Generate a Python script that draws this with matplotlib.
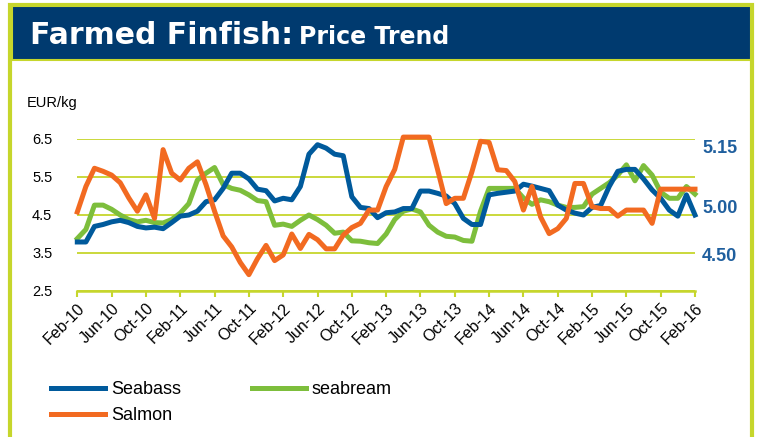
import numpy as np
import pandas as pd
import matplotlib
matplotlib.use('Agg')
import matplotlib.pyplot as plt
from matplotlib.patches import Rectangle

plt.rcParams['font.family'] = ['Liberation Sans', 'DejaVu Sans']

# monthly prices, Feb-10 .. Feb-16 (EUR/kg)
months = pd.date_range('2010-02-01', periods=73, freq='MS')

seabass = [3.79, 3.79, 4.20, 4.25, 4.32, 4.36, 4.30, 4.20, 4.16, 4.18,
           4.14, 4.30, 4.47, 4.50, 4.60, 4.85, 4.90, 5.20, 5.60, 5.60,
           5.45, 5.18, 5.14, 4.87, 4.94, 4.90, 5.25, 6.10, 6.35, 6.26,
           6.10, 6.06, 4.98, 4.70, 4.67, 4.43, 4.56, 4.58, 4.67, 4.67,
           5.13, 5.13, 5.07, 5.00, 4.80, 4.41, 4.25, 4.25, 5.03, 5.07,
           5.10, 5.13, 5.31, 5.26, 5.20, 5.14, 4.76, 4.63, 4.55, 4.50,
           4.70, 4.75, 5.25, 5.65, 5.70, 5.70, 5.45, 5.16, 4.94, 4.63,
           4.47, 5.03, 4.50]

seabream = [3.88, 4.12, 4.76, 4.76, 4.65, 4.50, 4.38, 4.32, 4.36, 4.30,
            4.29, 4.38, 4.55, 4.80, 5.42, 5.60, 5.75, 5.30, 5.20, 5.15,
            5.03, 4.88, 4.85, 4.23, 4.26, 4.20, 4.36, 4.50, 4.38, 4.23,
            4.02, 4.05, 3.82, 3.81, 3.77, 3.75, 4.00, 4.38, 4.60, 4.66,
            4.58, 4.23, 4.05, 3.94, 3.92, 3.83, 3.81, 4.60, 5.20, 5.20,
            5.20, 5.20, 4.95, 4.78, 4.90, 4.85, 4.76, 4.70, 4.70, 4.72,
            5.05, 5.20, 5.35, 5.55, 5.82, 5.40, 5.80, 5.55, 5.10, 4.94,
            4.94, 5.25, 5.05]

salmon = [4.58, 5.25, 5.73, 5.65, 5.55, 5.35, 4.95, 4.60, 5.03, 4.41,
          6.22, 5.60, 5.42, 5.73, 5.90, 5.30, 4.60, 3.95, 3.66, 3.25,
          2.93, 3.35, 3.70, 3.30, 3.45, 4.00, 3.62, 3.99, 3.85, 3.61,
          3.61, 3.97, 4.17, 4.28, 4.63, 4.63, 5.25, 5.70, 6.55, 6.55,
          6.55, 6.55, 5.69, 4.80, 4.94, 4.94, 5.64, 6.44, 6.41, 5.69,
          5.67, 5.38, 4.63, 5.25, 4.45, 4.01, 4.14, 4.41, 5.33, 5.33,
          4.72, 4.67, 4.67, 4.47, 4.63, 4.63, 4.63, 4.28, 5.18, 5.18,
          5.18, 5.18, 5.18]

left_ticks = [2.5, 3.5, 4.5, 5.5, 6.5]
# odd secondary labels drawn on the right side (placed on the EUR/kg scale)
right_tick_pos = [6.30, 4.72, 3.47]
right_tick_labels = ['5.15', '5.00', '4.50']

c_bass = '#005A9C'
c_bream = '#7DBE3C'
c_salmon = '#F26A21'
c_frame = '#C6D62C'
c_navy = '#003A6F'

W, H = 758, 437
fig = plt.figure(figsize=(W / 100, H / 100), dpi=100)

# frame + banner
fig.patches.append(Rectangle((10 / W, -0.05), 742 / W, 1.05 - 4.5 / H, transform=fig.transFigure,
                             facecolor='none', edgecolor=c_frame, linewidth=3, zorder=0))
fig.patches.append(Rectangle((11.5 / W, 1 - 60 / H), 739 / W, 54 / H, transform=fig.transFigure,
                             facecolor=c_navy, edgecolor=c_frame, linewidth=1.5, zorder=1))
t1 = fig.text(30 / W, 1 - 44.5 / H, 'Farmed Finfish:', color='white', fontsize=21.5,
              fontweight='bold', family='DejaVu Sans', va='baseline')
fig.canvas.draw()
bb = t1.get_window_extent()
fig.text((bb.x1 + 6) / W, 1 - 44.5 / H, 'Price Trend', color='white', fontsize=17,
         fontweight='bold', family='DejaVu Sans', va='baseline')

fig.text(27 / W, 1 - 103 / H, 'EUR/kg', fontsize=10.5, va='center', ha='left')

ax = fig.add_axes([77.3 / W, 1 - 291 / H, (695 - 77.3) / W, (291 - 139) / H])
x = np.arange(len(months))
ax.plot(x, seabream, color=c_bream, lw=3.6, label='seabream', clip_on=False, zorder=3)
ax.plot(x, seabass, color=c_bass, lw=3.6, label='Seabass', clip_on=False, zorder=4)
ax.plot(x, salmon, color=c_salmon, lw=3.6, label='Salmon', clip_on=False, zorder=5)

ax.set_xlim(0, len(months) - 1)
ax.set_ylim(2.5, 6.5)
ax.set_yticks(left_ticks)
ax.set_yticklabels(['%.1f' % v for v in left_ticks])
ax.yaxis.grid(True, color=c_frame, lw=1.3)
ax.set_axisbelow(True)
xt = x[::4]
ax.set_xticks(xt)
ax.set_xticklabels([m.strftime('%b-%y') for m in months[::4]], rotation=45,
                   ha='right', rotation_mode='anchor', fontsize=11.5)
for s in ['left', 'right', 'top']:
    ax.spines[s].set_visible(False)
ax.spines['bottom'].set_color(c_frame)
ax.spines['bottom'].set_linewidth(1.8)
ax.tick_params(axis='x', color=c_frame, length=4, width=1.5, pad=3)
ax.tick_params(axis='y', length=0, pad=18, labelsize=10.5)

ax2 = ax.twinx()
ax2.set_ylim(ax.get_ylim())
ax2.set_yticks(right_tick_pos)
ax2.set_yticklabels(right_tick_labels, color='#1F5F9E', fontweight='bold', fontsize=13)
ax2.tick_params(axis='y', length=0, pad=5)
for s in ax2.spines.values():
    s.set_visible(False)

h, l = ax.get_legend_handles_labels()
order = [1, 2, 0]  # Seabass, Salmon | seabream
fig.legend([h[i] for i in order], [l[i] for i in order], ncol=2,
           loc='upper left', bbox_to_anchor=(51 / W, 1 - 381 / H), frameon=False,
           borderpad=0, borderaxespad=0,
           fontsize=13, handlelength=3.0, handletextpad=0.33, columnspacing=3.9,
           labelspacing=0.5)

fig.savefig('out.png', dpi=100)
